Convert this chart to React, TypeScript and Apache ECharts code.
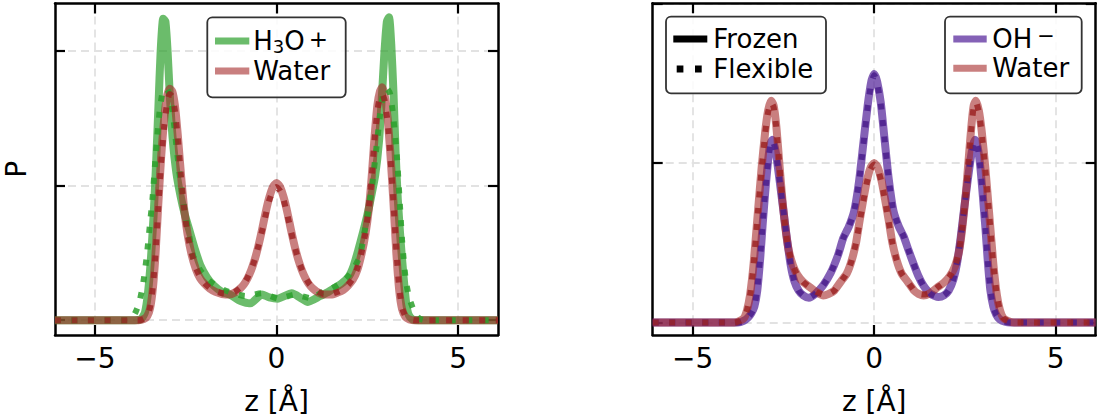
import { useEffect, useRef } from "react";
import * as echarts from "echarts";

type Pt = [number, number];

// Axis ranges and ticks (z in Å, P in arbitrary units)
const Z_RANGE: [number, number] = [-6.1, 6.1];
const Z_TICKS = [-5, 0, 5];
const P_TICKS = [0, 1, 2];
const P_RANGE_LEFT: [number, number] = [-0.11, 2.353];
const P_RANGE_RIGHT: [number, number] = [-0.078, 2.0];

// Left panel: hydronium vs. water density profiles
const H3O_FROZEN: Pt[] = [
  [-6.1, 0], [-3.9, 0], [-3.72, 0.01], [-3.62, 0.06], [-3.54, 0.2], [-3.46, 0.45], [-3.38, 0.8],
  [-3.31, 1.2], [-3.25, 1.6], [-3.19, 2.0], [-3.12, 2.24], [-3.06, 2.22], [-3.0, 2.0], [-2.94, 1.68],
  [-2.86, 1.35], [-2.76, 1.1], [-2.64, 0.92], [-2.52, 0.78], [-2.39, 0.66], [-2.25, 0.53], [-2.1, 0.41],
  [-1.92, 0.32], [-1.74, 0.26], [-1.5, 0.21], [-1.28, 0.19], [-1.05, 0.15], [-0.9, 0.135], [-0.72, 0.125],
  [-0.4, 0.19], [-0.2, 0.17], [0.03, 0.16], [0.42, 0.2], [0.7, 0.16], [0.86, 0.135], [1.0, 0.15],
  [1.2, 0.18], [1.39, 0.205], [1.6, 0.24], [1.78, 0.27], [1.98, 0.32], [2.12, 0.4], [2.25, 0.52],
  [2.39, 0.66], [2.5, 0.78], [2.6, 0.91], [2.72, 1.08], [2.82, 1.32], [2.9, 1.65], [2.97, 1.98],
  [3.04, 2.22], [3.1, 2.25], [3.16, 2.05], [3.22, 1.7], [3.28, 1.25], [3.34, 0.9], [3.42, 0.58],
  [3.5, 0.32], [3.57, 0.13], [3.64, 0.04], [3.75, 0.005], [3.9, 0], [6.1, 0],
];

const H3O_FLEXIBLE: Pt[] = [
  [-6.1, 0], [-4.1, 0], [-3.97, 0.02], [-3.88, 0.06], [-3.78, 0.13], [-3.68, 0.26], [-3.58, 0.46],
  [-3.49, 0.7], [-3.41, 0.92], [-3.32, 1.25], [-3.22, 1.55], [-3.13, 1.7], [-3.03, 1.72], [-2.93, 1.66],
  [-2.84, 1.5], [-2.75, 1.28], [-2.64, 1.02], [-2.52, 0.8], [-2.4, 0.62], [-2.3, 0.48], [-2.12, 0.38],
  [-1.92, 0.31], [-1.74, 0.27], [-1.45, 0.225], [-1.19, 0.2], [-0.86, 0.18], [-0.4, 0.2], [0.05, 0.16],
  [0.5, 0.19], [1.0, 0.16], [1.2, 0.2], [1.45, 0.225], [1.74, 0.27], [1.92, 0.31], [2.12, 0.38],
  [2.3, 0.48], [2.4, 0.62], [2.52, 0.8], [2.64, 1.02], [2.75, 1.28], [2.85, 1.52], [2.94, 1.68],
  [3.04, 1.72], [3.13, 1.68], [3.22, 1.5], [3.32, 1.2], [3.4, 0.85], [3.47, 0.55], [3.56, 0.3],
  [3.65, 0.17], [3.74, 0.1], [3.84, 0.04], [3.95, 0.01], [4.1, 0], [6.1, 0],
];

const WATER_L_FROZEN: Pt[] = [
  [-6.1, 0], [-3.8, 0], [-3.66, 0.008], [-3.56, 0.03], [-3.48, 0.09], [-3.4, 0.25], [-3.33, 0.5],
  [-3.26, 0.84], [-3.18, 1.2], [-3.09, 1.5], [-3.01, 1.67], [-2.94, 1.72], [-2.87, 1.7], [-2.8, 1.6],
  [-2.72, 1.38], [-2.63, 1.08], [-2.54, 0.82], [-2.45, 0.64], [-2.34, 0.49], [-2.22, 0.38], [-2.1, 0.31],
  [-1.98, 0.27], [-1.84, 0.235], [-1.68, 0.21], [-1.5, 0.195], [-1.3, 0.19], [-1.15, 0.205], [-1.0, 0.235],
  [-0.9, 0.265], [-0.8, 0.31], [-0.7, 0.37], [-0.6, 0.45], [-0.5, 0.55], [-0.4, 0.67], [-0.3, 0.8],
  [-0.2, 0.91], [-0.1, 0.99], [0, 1.02], [0.1, 0.99], [0.2, 0.91], [0.3, 0.8], [0.4, 0.67], [0.5, 0.55],
  [0.6, 0.45], [0.7, 0.37], [0.8, 0.31], [0.9, 0.265], [1.0, 0.235], [1.15, 0.205], [1.3, 0.19],
  [1.5, 0.19], [1.68, 0.205], [1.84, 0.225], [1.98, 0.26], [2.1, 0.3], [2.22, 0.37], [2.34, 0.49],
  [2.45, 0.64], [2.54, 0.82], [2.62, 1.06], [2.7, 1.36], [2.78, 1.6], [2.85, 1.7], [2.91, 1.73],
  [2.98, 1.67], [3.06, 1.5], [3.14, 1.22], [3.22, 0.88], [3.3, 0.5], [3.38, 0.22], [3.46, 0.08],
  [3.55, 0.025], [3.66, 0.006], [3.8, 0], [6.1, 0],
];

const WATER_L_FLEXIBLE: Pt[] = [
  [-6.1, 0], [-3.8, 0], [-3.66, 0.01], [-3.56, 0.035], [-3.48, 0.1], [-3.4, 0.26], [-3.33, 0.5],
  [-3.26, 0.82], [-3.18, 1.16], [-3.09, 1.45], [-3.01, 1.62], [-2.94, 1.68], [-2.87, 1.66], [-2.8, 1.56],
  [-2.72, 1.36], [-2.63, 1.07], [-2.54, 0.82], [-2.45, 0.64], [-2.34, 0.5], [-2.22, 0.39], [-2.1, 0.32],
  [-1.98, 0.275], [-1.84, 0.24], [-1.68, 0.215], [-1.5, 0.2], [-1.3, 0.195], [-1.15, 0.21], [-1.0, 0.24],
  [-0.9, 0.27], [-0.8, 0.315], [-0.7, 0.375], [-0.6, 0.45], [-0.5, 0.55], [-0.4, 0.66], [-0.3, 0.78],
  [-0.2, 0.89], [-0.1, 0.96], [0, 0.99], [0.1, 0.96], [0.2, 0.89], [0.3, 0.78], [0.4, 0.66], [0.5, 0.55],
  [0.6, 0.45], [0.7, 0.375], [0.8, 0.315], [0.9, 0.27], [1.0, 0.24], [1.15, 0.21], [1.3, 0.195],
  [1.5, 0.195], [1.68, 0.21], [1.84, 0.23], [1.98, 0.265], [2.1, 0.31], [2.22, 0.38], [2.34, 0.5],
  [2.45, 0.65], [2.54, 0.83], [2.62, 1.06], [2.7, 1.34], [2.78, 1.56], [2.85, 1.66], [2.91, 1.68],
  [2.98, 1.63], [3.06, 1.47], [3.14, 1.2], [3.22, 0.87], [3.3, 0.52], [3.38, 0.24], [3.46, 0.09],
  [3.55, 0.03], [3.66, 0.008], [3.8, 0], [6.1, 0],
];

// Right panel: hydroxide vs. water density profiles
const OH_FROZEN: Pt[] = [
  [-6.1, 0], [-3.75, 0], [-3.6, 0.01], [-3.48, 0.03], [-3.38, 0.06], [-3.3, 0.1], [-3.22, 0.2],
  [-3.14, 0.4], [-3.07, 0.62], [-3.0, 0.82], [-2.92, 1.02], [-2.86, 1.12], [-2.8, 1.145], [-2.74, 1.1],
  [-2.68, 1.02], [-2.6, 0.88], [-2.5, 0.7], [-2.4, 0.52], [-2.3, 0.36], [-2.2, 0.26], [-2.08, 0.2],
  [-1.95, 0.17], [-1.8, 0.155], [-1.62, 0.18], [-1.4, 0.235], [-1.2, 0.31], [-1.0, 0.42], [-0.85, 0.53],
  [-0.7, 0.6], [-0.55, 0.7], [-0.42, 0.88], [-0.3, 1.12], [-0.18, 1.36], [-0.08, 1.51], [0, 1.557],
  [0.08, 1.51], [0.18, 1.38], [0.28, 1.16], [0.4, 0.9], [0.53, 0.7], [0.68, 0.6], [0.81, 0.54],
  [0.95, 0.45], [1.08, 0.37], [1.22, 0.29], [1.36, 0.23], [1.55, 0.18], [1.77, 0.16], [1.92, 0.17],
  [2.05, 0.2], [2.18, 0.27], [2.28, 0.37], [2.38, 0.53], [2.48, 0.72], [2.58, 0.9], [2.66, 1.03],
  [2.72, 1.11], [2.78, 1.145], [2.85, 1.1], [2.92, 0.98], [2.99, 0.8], [3.06, 0.6], [3.13, 0.38],
  [3.2, 0.2], [3.28, 0.1], [3.36, 0.05], [3.46, 0.02], [3.6, 0.005], [3.75, 0], [6.1, 0],
];

const OH_FLEXIBLE: Pt[] = [
  [-6.1, 0], [-3.75, 0], [-3.6, 0.01], [-3.48, 0.03], [-3.38, 0.06], [-3.3, 0.1], [-3.22, 0.21],
  [-3.14, 0.41], [-3.07, 0.62], [-3.0, 0.82], [-2.92, 1.01], [-2.86, 1.11], [-2.8, 1.14], [-2.74, 1.1],
  [-2.68, 1.02], [-2.6, 0.88], [-2.5, 0.7], [-2.4, 0.52], [-2.3, 0.36], [-2.2, 0.26], [-2.08, 0.2],
  [-1.95, 0.17], [-1.8, 0.155], [-1.62, 0.18], [-1.4, 0.235], [-1.2, 0.31], [-1.0, 0.42], [-0.85, 0.53],
  [-0.7, 0.6], [-0.55, 0.7], [-0.42, 0.88], [-0.3, 1.11], [-0.18, 1.35], [-0.08, 1.5], [0, 1.55],
  [0.08, 1.5], [0.18, 1.37], [0.28, 1.16], [0.4, 0.9], [0.53, 0.7], [0.68, 0.6], [0.81, 0.54],
  [0.95, 0.45], [1.08, 0.37], [1.22, 0.29], [1.36, 0.23], [1.55, 0.18], [1.77, 0.16], [1.92, 0.17],
  [2.05, 0.2], [2.18, 0.27], [2.28, 0.37], [2.38, 0.53], [2.48, 0.72], [2.58, 0.9], [2.66, 1.03],
  [2.72, 1.1], [2.78, 1.14], [2.85, 1.1], [2.92, 0.98], [2.99, 0.8], [3.06, 0.6], [3.13, 0.38],
  [3.2, 0.2], [3.28, 0.1], [3.36, 0.05], [3.46, 0.02], [3.6, 0.005], [3.75, 0], [6.1, 0],
];

const WATER_R_FROZEN: Pt[] = [
  [-6.1, 0], [-3.85, 0], [-3.7, 0.01], [-3.58, 0.03], [-3.5, 0.08], [-3.42, 0.17], [-3.32, 0.37],
  [-3.2, 0.7], [-3.1, 0.97], [-3.0, 1.2], [-2.92, 1.33], [-2.84, 1.39], [-2.77, 1.36], [-2.7, 1.24],
  [-2.62, 1.02], [-2.54, 0.8], [-2.45, 0.6], [-2.36, 0.46], [-2.24, 0.36], [-2.12, 0.3], [-1.96, 0.255],
  [-1.76, 0.22], [-1.58, 0.19], [-1.4, 0.17], [-1.25, 0.18], [-1.1, 0.2], [-0.94, 0.25], [-0.75, 0.31],
  [-0.62, 0.39], [-0.5, 0.5], [-0.4, 0.64], [-0.3, 0.77], [-0.2, 0.89], [-0.1, 0.97], [0, 1.0],
  [0.1, 0.97], [0.2, 0.89], [0.3, 0.77], [0.4, 0.64], [0.5, 0.5], [0.62, 0.39], [0.75, 0.31],
  [0.94, 0.25], [1.1, 0.2], [1.22, 0.18], [1.36, 0.17], [1.55, 0.185], [1.74, 0.22], [1.92, 0.25],
  [2.08, 0.29], [2.22, 0.35], [2.34, 0.45], [2.43, 0.6], [2.52, 0.8], [2.6, 1.02], [2.68, 1.24],
  [2.74, 1.36], [2.8, 1.39], [2.88, 1.33], [2.96, 1.2], [3.06, 0.97], [3.16, 0.7], [3.28, 0.37],
  [3.38, 0.17], [3.46, 0.08], [3.55, 0.03], [3.68, 0.01], [3.85, 0], [6.1, 0],
];

const WATER_R_FLEXIBLE: Pt[] = [
  [-6.1, 0], [-3.85, 0], [-3.7, 0.01], [-3.58, 0.03], [-3.5, 0.08], [-3.42, 0.17], [-3.32, 0.37],
  [-3.2, 0.7], [-3.1, 0.96], [-3.0, 1.19], [-2.92, 1.32], [-2.84, 1.38], [-2.77, 1.35], [-2.7, 1.23],
  [-2.62, 1.02], [-2.54, 0.8], [-2.45, 0.6], [-2.36, 0.46], [-2.24, 0.36], [-2.12, 0.3], [-1.96, 0.255],
  [-1.76, 0.22], [-1.58, 0.19], [-1.4, 0.175], [-1.25, 0.18], [-1.1, 0.2], [-0.94, 0.25], [-0.75, 0.31],
  [-0.62, 0.39], [-0.5, 0.5], [-0.4, 0.63], [-0.3, 0.76], [-0.2, 0.88], [-0.1, 0.96], [0, 0.99],
  [0.1, 0.96], [0.2, 0.88], [0.3, 0.76], [0.4, 0.63], [0.5, 0.5], [0.62, 0.39], [0.75, 0.31],
  [0.94, 0.25], [1.1, 0.2], [1.22, 0.18], [1.36, 0.175], [1.55, 0.185], [1.74, 0.22], [1.92, 0.25],
  [2.08, 0.29], [2.22, 0.35], [2.34, 0.45], [2.43, 0.6], [2.52, 0.8], [2.6, 1.02], [2.68, 1.23],
  [2.74, 1.35], [2.8, 1.38], [2.88, 1.32], [2.96, 1.19], [3.06, 0.96], [3.16, 0.7], [3.28, 0.37],
  [3.38, 0.17], [3.46, 0.08], [3.55, 0.03], [3.68, 0.01], [3.85, 0], [6.1, 0],
];

const FONT = "DejaVu Sans";
const AXIS_FONT = 28;
const LEGEND_FONT = 26;
const GREEN = "#2ca02c";
const BROWN = "#a52a2a";
const DARK_RED = "#9c2424";
const PURPLE = "#5b2c9e";
const DARK_PURPLE = "#4a1f8c";
const SOLID_W = 8;
const DOT_W = 6;
const DOT_DASH = [6, 10.5];

const minusFmt = (v: number) => (v < 0 ? "\u2212" + Math.abs(v) : String(v));

const spine = { show: true, onZero: false, lineStyle: { color: "#000", width: 2.5 } };
const gridLine = { show: true, lineStyle: { color: "#e2e2e2", width: 1.8, type: [8, 5] as number[] } };

function ticks(values: number[]) {
  return { show: true, inside: true, length: 10, customValues: values, lineStyle: { color: "#000", width: 2.2 } };
}

function xAxes(gridIndex: number) {
  return [
    {
      type: "value", gridIndex, position: "bottom", min: Z_RANGE[0], max: Z_RANGE[1],
      name: "z [Å]", nameLocation: "middle", nameGap: 52,
      nameTextStyle: { fontSize: AXIS_FONT, color: "#000", fontFamily: FONT },
      axisLine: spine, axisTick: ticks(Z_TICKS),
      axisLabel: { show: true, customValues: Z_TICKS, formatter: minusFmt, fontSize: AXIS_FONT, color: "#000", fontFamily: FONT, margin: 9 },
      splitLine: gridLine,
    },
    {
      type: "value", gridIndex, position: "top", min: Z_RANGE[0], max: Z_RANGE[1],
      axisLine: spine, axisTick: ticks(Z_TICKS),
      axisLabel: { show: false, customValues: Z_TICKS }, splitLine: { show: false },
    },
  ];
}

function yAxes(gridIndex: number, range: [number, number], name: string) {
  return [
    {
      type: "value", gridIndex, position: "left", min: range[0], max: range[1],
      name, nameLocation: "middle", nameGap: 25, nameRotate: 90,
      nameTextStyle: { fontSize: AXIS_FONT, color: "#000", fontFamily: FONT },
      axisLine: spine, axisTick: ticks(P_TICKS),
      axisLabel: { show: false, customValues: P_TICKS }, splitLine: gridLine,
    },
    {
      type: "value", gridIndex, position: "right", min: range[0], max: range[1],
      axisLine: spine, axisTick: ticks(P_TICKS),
      axisLabel: { show: false, customValues: P_TICKS }, splitLine: { show: false },
    },
  ];
}

function solid(data: Pt[], axis: number, color: string, opacity: number) {
  return {
    type: "line", xAxisIndex: axis, yAxisIndex: axis, data, symbol: "none", silent: true,
    smooth: 0.2, lineStyle: { color, width: SOLID_W, opacity, cap: "butt", join: "round" }, z: 2,
  };
}

function dotted(data: Pt[], axis: number, color: string, opacity: number) {
  return {
    type: "line", xAxisIndex: axis, yAxisIndex: axis, data, symbol: "none", silent: true,
    smooth: 0.2, lineStyle: { color, width: DOT_W, opacity, type: DOT_DASH, cap: "butt", join: "round" }, z: 3,
  };
}

const textStyle = { fontSize: LEGEND_FONT, fontFamily: FONT, fill: "#000", verticalAlign: "middle", align: "left" };

function legendBox(x: number, y: number, w: number, h: number) {
  return {
    type: "rect", z: 20, shape: { x, y, width: w, height: h, r: 5 },
    style: { fill: "rgba(255,255,255,0.85)", stroke: "#333", lineWidth: 1.8 },
  };
}

function sample(x1: number, x2: number, y: number, color: string, opacity: number, dash?: number[]) {
  return {
    type: "line", z: 21, shape: { x1, y1: y, x2, y2: y },
    style: { stroke: color, opacity, lineWidth: 7, lineCap: "butt", lineDash: dash },
  };
}

function label(x: number, y: number, text: string, rich?: Record<string, unknown>) {
  return { type: "text", z: 21, x, y, style: { ...textStyle, text, rich } };
}

// Chemical formulas with sub/superscripts
const h3oRich = {
  n: { fontSize: LEGEND_FONT, fontFamily: FONT, lineHeight: 28 },
  s: { fontSize: 18, fontFamily: FONT, lineHeight: 12, verticalAlign: "bottom" },
  p: { fontSize: 23, fontFamily: FONT, lineHeight: 18, verticalAlign: "top", padding: [0, 0, 0, 4] },
};
const ohRich = {
  n: { fontSize: LEGEND_FONT, fontFamily: FONT, lineHeight: 28 },
  p: { fontSize: 21, fontFamily: FONT, lineHeight: 14, verticalAlign: "top", padding: [0, 0, 0, 5] },
};

export default function App() {
  const ref = useRef<HTMLDivElement>(null);

  useEffect(() => {
    if (!ref.current) return;
    const chart = echarts.init(ref.current, null, { renderer: "svg" });
    chart.setOption({
      animation: false,
      backgroundColor: "#fff",
      grid: [
        { left: 55, top: 3.5, width: 443, height: 335.5 },
        { left: 652.7, top: 3.3, width: 443, height: 336 },
      ],
      xAxis: [...xAxes(0), ...xAxes(1)],
      yAxis: [...yAxes(0, P_RANGE_LEFT, "P"), ...yAxes(1, P_RANGE_RIGHT, "")],
      series: [
        solid(H3O_FROZEN, 0, GREEN, 0.7),
        solid(WATER_L_FROZEN, 0, BROWN, 0.6),
        dotted(H3O_FLEXIBLE, 0, GREEN, 0.85),
        dotted(WATER_L_FLEXIBLE, 0, DARK_RED, 0.85),
        solid(OH_FROZEN, 2, PURPLE, 0.75),
        solid(WATER_R_FROZEN, 2, BROWN, 0.6),
        dotted(OH_FLEXIBLE, 2, DARK_PURPLE, 0.85),
        dotted(WATER_R_FLEXIBLE, 2, DARK_RED, 0.85),
      ],
      graphic: [
        legendBox(207.3, 17.3, 138.4, 80),
        sample(215, 249.3, 41, GREEN, 0.7),
        sample(215, 249.3, 71, BROWN, 0.6),
        label(253.3, 41, "{n|H}{s|3}{n|O}{p|+}", h3oRich),
        label(253.3, 71, "Water"),

        legendBox(666, 16.7, 160, 76.6),
        sample(673.3, 707.3, 39, "#000", 1),
        sample(676.7, 707.3, 69, "#000", 1, [6.7, 11.6]),
        label(713.3, 39, "Frozen"),
        label(713.3, 69, "Flexible"),

        legendBox(945, 16.7, 136.7, 76.6),
        sample(953.3, 986.7, 39, PURPLE, 0.75),
        sample(953.3, 986.7, 68.3, BROWN, 0.6),
        label(992.3, 39, "{n|OH}{p|\u2212}", ohRich),
        label(992.3, 68.3, "Water"),
      ],
    });
    return () => chart.dispose();
  }, []);

  return <div ref={ref} style={{ position: "fixed", left: 0, top: 0, width: 1097, height: 420 }} />;
}
